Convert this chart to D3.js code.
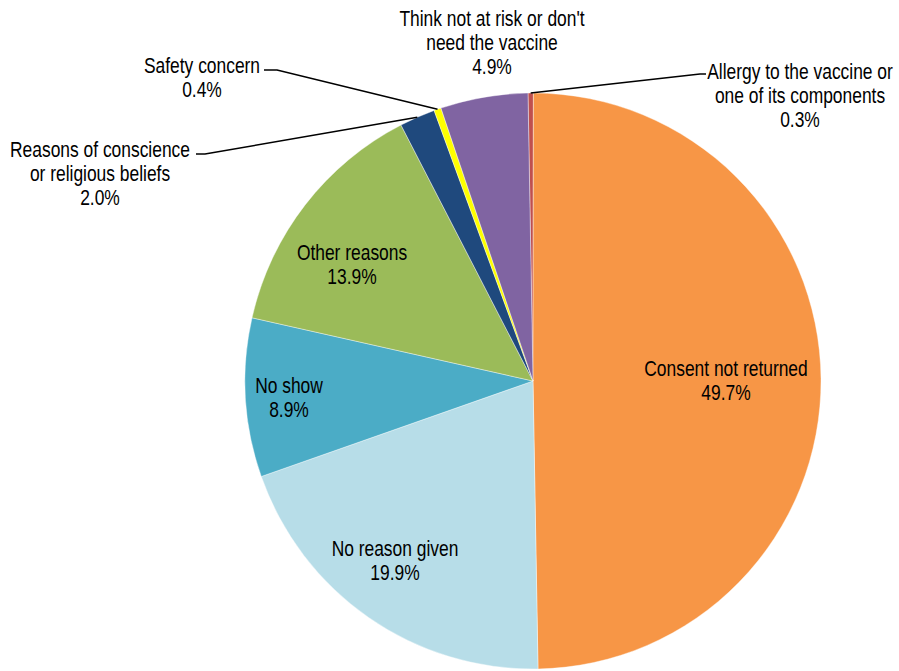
<!DOCTYPE html>
<html>
<head>
<meta charset="utf-8">
<script src="https://cdn.jsdelivr.net/npm/d3@7"></script>
<style>
  body { margin: 0; background: #fff; }
  text { font-family: "Liberation Sans", Arial, sans-serif; font-size: 21.5px; fill: #000; }
</style>
</head>
<body>
<main></main>
<script>
// chart values, in the order they go round the pie (clockwise from the top)
const categories = [
  "Allergy to the vaccine or one of its components",
  "Consent not returned",
  "No reason given",
  "No show",
  "Other reasons",
  "Reasons of conscience or religious beliefs",
  "Safety concern",
  "Think not at risk or don't need the vaccine"
];
const shares = [0.3, 49.7, 19.9, 8.9, 13.9, 2.0, 0.4, 4.9];
const labelLines = [
  ["Allergy to the vaccine or", "one of its components"],
  ["Consent not returned"],
  ["No reason given"],
  ["No show"],
  ["Other reasons"],
  ["Reasons of conscience", "or religious beliefs"],
  ["Safety concern"],
  ["Think not at risk or don't", "need the vaccine"]
];
const colours = ["#c0504d", "#f79646", "#b7dde8", "#4bacc6", "#9bbb59", "#1f497d", "#ffff00", "#8064a2"];

const width = 899, height = 671;
const cx = 533, cy = 381, radius = 288;
const lineH = 24;
const squeeze = 0.81; // the reference uses a condensed face

// label layout: text anchor (first baseline) for each label; outside ones get a leader elbow
const layout = {
  "Consent not returned": { x: 726, y: 376 },
  "No reason given": { x: 395, y: 556 },
  "No show": { x: 289, y: 393 },
  "Other reasons": { x: 352, y: 260 },
  "Allergy to the vaccine or one of its components": { x: 800, y: 79, elbow: [[706, 74], [700, 74]] },
  "Safety concern": { x: 202, y: 73, elbow: [[264, 70], [277, 70]] },
  "Reasons of conscience or religious beliefs": { x: 100, y: 157, elbow: [[196, 154], [205, 154]] },
  "Think not at risk or don't need the vaccine": { x: 492, y: 26 }
};

const svg = d3.select("main").append("svg")
  .attr("width", width)
  .attr("height", height);

const g = svg.append("g").attr("transform", `translate(${cx},${cy})`);

const rows = categories.map((c, i) => ({ name: c, value: shares[i], lines: labelLines[i], colour: colours[i] }));

const offset = -1 * Math.PI / 180;
const pie = d3.pie()
  .value(d => d.value)
  .sort(null)
  .startAngle(offset)
  .endAngle(offset + 2 * Math.PI);

const arcs = pie(rows);
const arc = d3.arc().innerRadius(0).outerRadius(radius);

g.selectAll("path.slice")
  .data(arcs)
  .enter().append("path")
  .attr("class", "slice")
  .attr("d", arc)
  .attr("fill", d => d.data.colour)
  .attr("stroke", "#fff")
  .attr("stroke-width", 0.4);

const edgeArc = d3.arc().innerRadius(radius).outerRadius(radius);

arcs.forEach(d => {
  const lay = layout[d.data.name];
  const lines = d.data.lines.concat([d3.format(".1f")(d.data.value) + "%"]);
  const t = svg.append("text")
    .attr("text-anchor", "middle")
    .attr("transform", `translate(${lay.x},${lay.y}) scale(${squeeze},1)`);
  lines.forEach((s, i) => {
    t.append("tspan").attr("x", 0).attr("y", i * lineH).text(s);
  });

  if (lay.elbow) {
    const p = edgeArc.centroid(d);
    const pts = lay.elbow.concat([[cx + p[0], cy + p[1]]]);
    svg.append("path")
      .attr("d", d3.line()(pts))
      .attr("fill", "none")
      .attr("stroke", "#000")
      .attr("stroke-width", 1.5);
  }
});
</script>
</body>
</html>
